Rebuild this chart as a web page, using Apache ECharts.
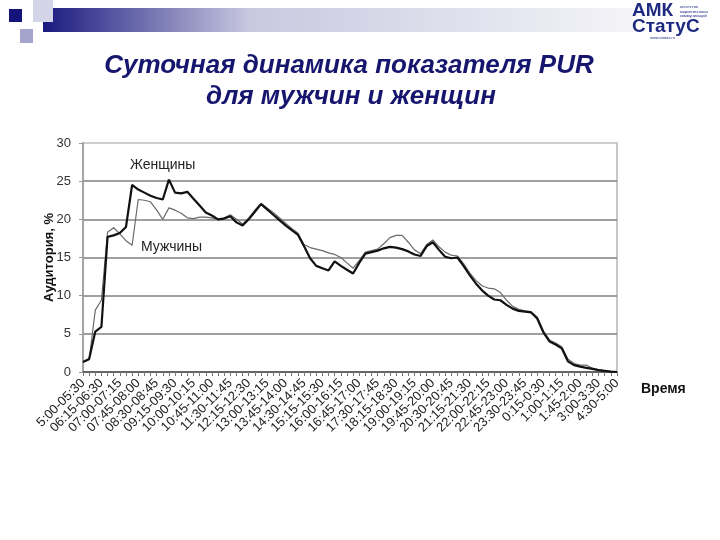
<!DOCTYPE html>
<html><head><meta charset="utf-8">
<script src="https://cdn.jsdelivr.net/npm/echarts@6/dist/echarts.min.js"></script>
<style>html,body{margin:0;padding:0;background:#fff}#c{width:720px;height:540px}</style>
</head><body><div id="c"></div>
<script>
var categories = ["5:00-05:30","05:30-06:00","06:00-06:15","06:15-06:30","06:30-06:45","06:45-07:00","07:00-07:15","07:15-07:30","07:30-07:45","07:45-08:00","08:00-08:15","08:15-08:30","08:30-08:45","08:45-09:00","09:00-09:15","09:15-09:30","09:30-09:45","09:45-10:00","10:00-10:15","10:15-10:30","10:30-10:45","10:45-11:00","11:00-11:15","11:15-11:30","11:30-11:45","11:45-12:00","12:00-12:15","12:15-12:30","12:30-12:45","12:45-13:00","13:00-13:15","13:15-13:30","13:30-13:45","13:45-14:00","14:00-14:15","14:15-14:30","14:30-14:45","14:45-15:00","15:00-15:15","15:15-15:30","15:30-15:45","15:45-16:00","16:00-16:15","16:15-16:30","16:30-16:45","16:45-17:00","17:00-17:15","17:15-17:30","17:30-17:45","17:45-18:00","18:00-18:15","18:15-18:30","18:30-18:45","18:45-19:00","19:00-19:15","19:15-19:30","19:30-19:45","19:45-20:00","20:00-20:15","20:15-20:30","20:30-20:45","20:45-21:00","21:00-21:15","21:15-21:30","21:30-21:45","21:45-22:00","22:00-22:15","22:15-22:30","22:30-22:45","22:45-23:00","23:00-23:15","23:15-23:30","23:30-23:45","23:45-0:00","0:00-0:15","0:15-0:30","0:30-0:45","0:45-1:00","1:00-1:15","1:15-1:30","1:30-1:45","1:45-2:00","2:00-2:30","2:30-3:00","3:00-3:30","3:30-4:00","4:00-4:30","4:30-5:00"];

var women = [1.3,1.7,5.3,5.9,17.7,17.9,18.2,19.0,24.5,23.9,23.5,23.1,22.8,22.6,25.2,23.5,23.4,23.6,22.7,21.8,
20.9,20.5,20.0,20.1,20.4,19.6,19.2,20.0,21.0,22.0,21.3,20.6,19.9,19.2,18.6,18.0,16.5,14.9,13.9,13.6,
13.3,14.5,13.9,13.4,12.9,14.3,15.5,15.7,15.9,16.2,16.4,16.3,16.1,15.8,15.4,15.2,16.5,17.0,16.0,15.1,
14.9,15.0,13.9,12.7,11.6,10.7,10.0,9.5,9.4,8.8,8.3,8.0,7.9,7.8,7.0,5.2,4.0,3.6,3.1,1.4,
0.9,0.7,0.55,0.4,0.25,0.15,0.05,0.0];

var men = [1.3,1.6,8.1,9.4,18.3,18.9,18.1,17.2,16.6,22.6,22.5,22.3,21.2,20.0,21.5,21.2,20.8,20.2,20.1,20.3,
20.3,20.2,20.0,20.2,20.6,20.0,19.4,20.2,21.2,22.1,21.5,20.9,20.2,19.5,18.8,18.2,16.7,16.3,16.1,15.9,
15.6,15.4,15.0,14.3,13.6,14.6,15.7,15.9,16.1,16.8,17.6,17.9,17.9,17.0,16.0,15.5,16.7,17.3,16.4,15.7,
15.3,15.2,14.2,13.0,12.0,11.3,11.0,10.9,10.4,9.4,8.6,8.2,8.0,7.9,7.2,5.4,4.2,3.8,3.3,1.7,
1.1,0.9,0.9,0.5,0.3,0.15,0.05,0];

var yTicks = [0,5,10,15,20,25,30];

var chart = echarts.init(document.getElementById('c'), null, {renderer:'canvas'});
var F = 'Liberation Sans, Arial, sans-serif';
var navy = '#16166e';
chart.setOption({
  animation:false,
  backgroundColor:'#ffffff',
  grid:{left:83,right:103,top:143,bottom:168,show:true,borderColor:'#c8c8c8',borderWidth:2,backgroundColor:'#ffffff'},
  xAxis:{type:'category',data:categories,boundaryGap:false,
    name:'Время',nameLocation:'end',nameGap:24,
    nameTextStyle:{fontFamily:F,fontWeight:'bold',fontSize:14,color:'#111',verticalAlign:'top',padding:[10,0,0,0]},
    axisLine:{lineStyle:{color:'#555',width:1.5}},
    axisTick:{interval:0,length:4,lineStyle:{color:'#777'}},
    axisLabel:{interval:2,rotate:45,margin:9,fontFamily:F,fontSize:13,color:'#222',hideOverlap:false}},
  yAxis:{type:'value',min:yTicks[0],max:yTicks[yTicks.length-1],interval:5,
    name:'Аудитория, %',nameLocation:'middle',nameGap:27,nameMoveOverlap:false,
    nameTextStyle:{fontFamily:F,fontWeight:'bold',fontSize:13,color:'#111'},
    axisLine:{show:true,lineStyle:{color:'#999',width:1.5}},
    axisTick:{show:true,length:4,lineStyle:{color:'#999'}},
    axisLabel:{margin:12,fontFamily:F,fontSize:13,color:'#333'},
    splitLine:{show:true,lineStyle:{color:['#808080','#808080','#808080','#808080','#808080','#808080','#d0d0d0'],width:1.5}}},
  series:[
    {name:'Мужчины',type:'line',data:men,symbol:'none',lineStyle:{color:'#6a6a6a',width:1.2},z:2},
    {name:'Женщины',type:'line',data:women,symbol:'none',lineStyle:{color:'#111',width:2.2},z:3}
  ],
  graphic:[
    {type:'rect',shape:{x:43,y:8,width:590,height:24},style:{fill:new echarts.graphic.LinearGradient(0,0,1,0,[{offset:0,color:'#1a1a80'},{offset:0.35,color:'#c8c8e0'},{offset:1,color:'#f4f4f8'}])},z:-1},
    {type:'rect',shape:{x:33,y:0,width:20,height:22},style:{fill:'#d4d4e8'},z:0},
    {type:'rect',shape:{x:9,y:9,width:13,height:13},style:{fill:'#14147a'},z:1},
    {type:'rect',shape:{x:20,y:29,width:13,height:14},style:{fill:'#a4a4cc'},z:1},
    {type:'text',x:349,y:66,style:{text:'Суточная динамика показателя PUR',font:'italic bold 26px Liberation Sans, Arial, sans-serif',fill:navy,align:'center',verticalAlign:'middle'}},
    {type:'text',x:351,y:97,style:{text:'для мужчин и женщин',font:'italic bold 26px Liberation Sans, Arial, sans-serif',fill:navy,align:'center',verticalAlign:'middle'}},
    {type:'text',x:130,y:165,style:{text:'Женщины',font:'14px Liberation Sans, Arial, sans-serif',fill:'#222',align:'left',verticalAlign:'middle'}},
    {type:'text',x:141,y:247,style:{text:'Мужчины',font:'14px Liberation Sans, Arial, sans-serif',fill:'#222',align:'left',verticalAlign:'middle'}},
    {type:'text',x:632,y:11,style:{text:'АМК',font:'bold 19px Liberation Sans, Arial, sans-serif',fill:'#1e2a80',align:'left',verticalAlign:'middle'}},
    {type:'text',x:632,y:27,style:{text:'СтатуС',font:'bold 19px Liberation Sans, Arial, sans-serif',fill:'#1e2a80',align:'left',verticalAlign:'middle'}},
    {type:'text',x:680,y:5,style:{text:'агентство\nмаркетинговых\nкоммуникаций',font:'4px Liberation Sans, Arial, sans-serif',lineHeight:4.5,fill:'#1e2a80',align:'left',verticalAlign:'top'}},
    {type:'text',x:650,y:38,style:{text:'www.status.ru',font:'4px Liberation Sans, Arial, sans-serif',fill:'#1e2a80',align:'left',verticalAlign:'middle'}}
  ]
});
</script></body></html>
